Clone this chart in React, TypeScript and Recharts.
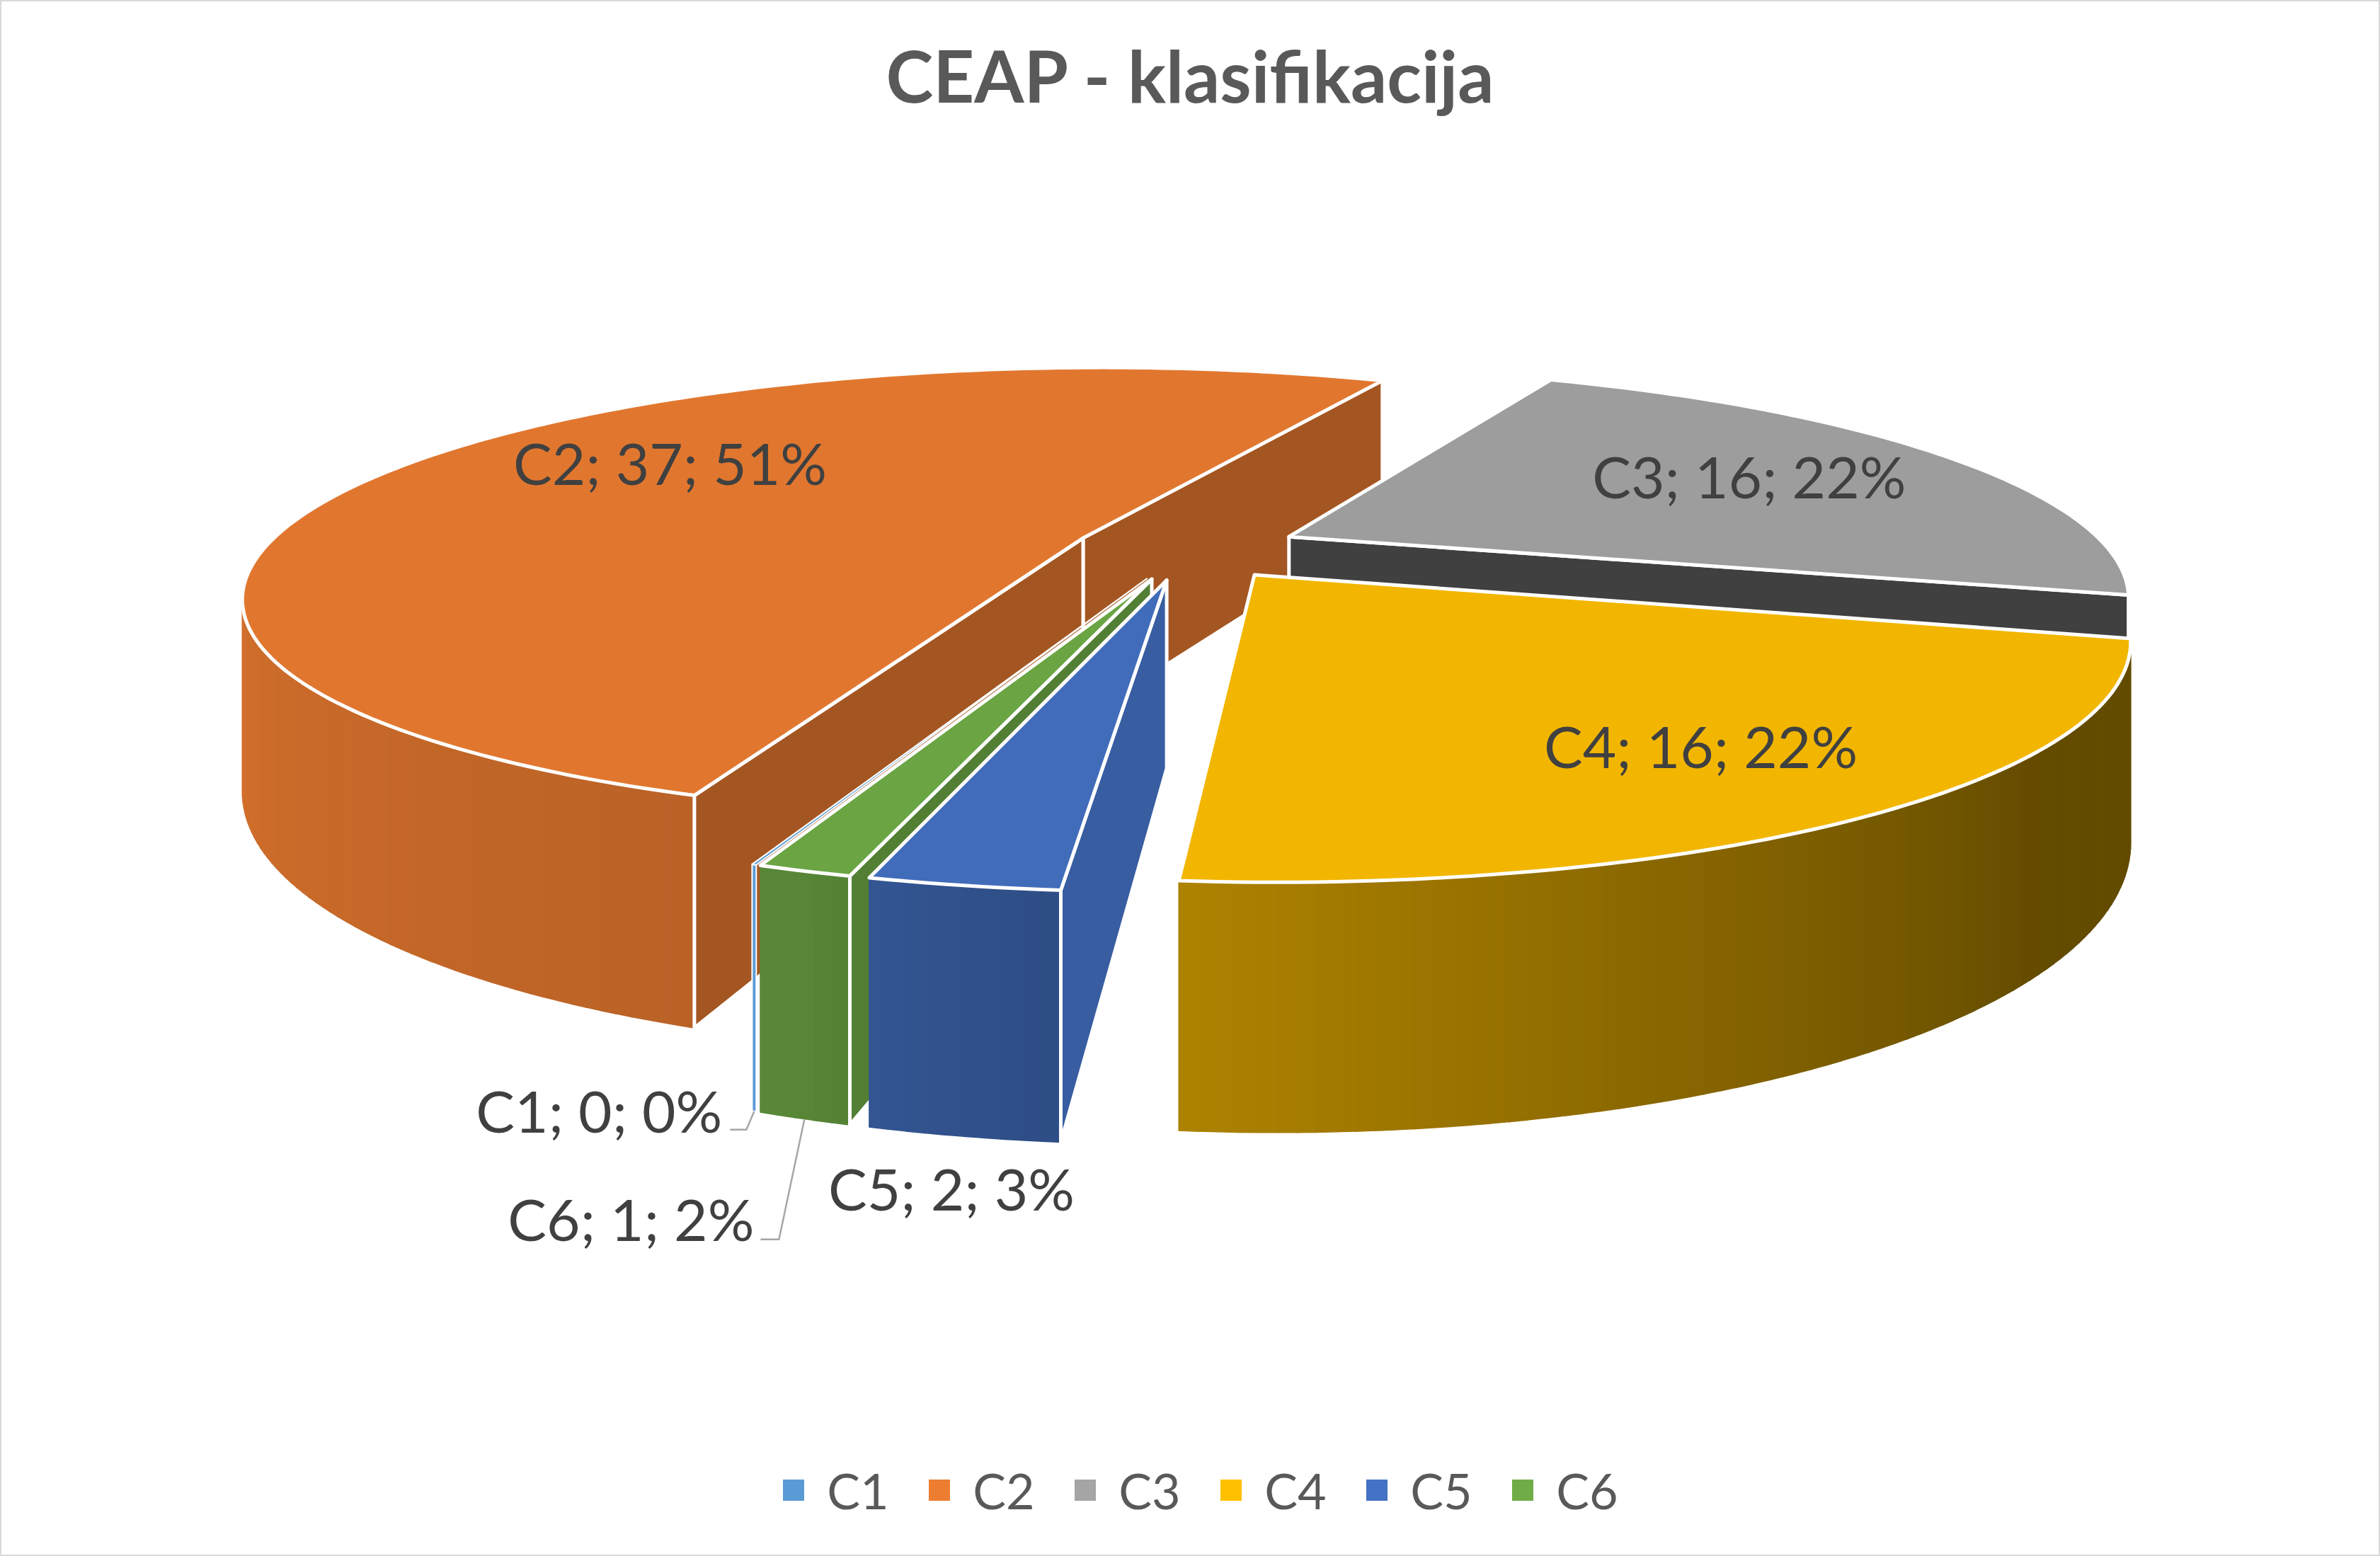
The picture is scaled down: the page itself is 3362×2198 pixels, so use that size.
import React from "react";
import { PieChart, Pie, Cell, Legend } from "recharts";

const categories = ["C1", "C2", "C3", "C4", "C5", "C6"];
const counts = [0, 37, 16, 16, 2, 1];
const percentLabels = [0, 51, 22, 22, 3, 2];
const colors = ["#5B9BD5", "#ED7D31", "#A5A5A5", "#FFC000", "#4472C4", "#70AD47"];

const data = categories.map((name, i) => ({ name, value: counts[i], pct: percentLabels[i] }));

const W = 3362;
const H = 2198;
const FONT = "Lato, 'Open Sans', sans-serif";

// first slice starts at 200deg clockwise from 12 o'clock
const START_CLOCK = 200;

// fake 3D: squash + simple perspective + thickness + explode
const TILT = 0.265;
const CAMERA = 4723;
const DEPTH = 257;
const EXPLODE = 161;

// brightness by direction of the face normal (degrees clockwise from 12 o'clock)
const wallLight = [[90, 0.39], [130, 0.39], [160, 0.54], [185, 0.68], [192, 0.72], [198, 0.78], [255, 0.89], [300, 0.9]];
const sideLight = [[85, 0.84], [95, 0.82], [110, 0.69], [115, 0.69], [195, 0.39]];

// label tweaks (px)
const insideNudge: Record<string, [number, number]> = { C2: [120, -26], C3: [-34, 2], C4: [36, 19] };
const outsideLayout: Record<string, { dx: number; dy: number; anchor: "end" | "middle"; lead?: number[] }> = {
  C1: { dx: -45, dy: 30, anchor: "end", lead: [-11, 26, -34] },
  C6: { dx: -71, dy: 172, anchor: "end", lead: [-36, 170, -62] },
  C5: { dx: -17, dy: 105, anchor: "middle" },
};

const RAD = Math.PI / 180;

// painter's order: slices further back are drawn first (a slice wider than 180deg holds the middle, so it goes first)
const depthRank = (() => {
  const total = counts.reduce((a, b) => a + b, 0);
  let acc = 0;
  const depth = counts.map((c) => {
    const m = START_CLOCK + ((acc + c / 2) / total) * 360;
    acc += c;
    return (c / total) * 360 > 180 ? -Infinity : -Math.cos(m * RAD);
  });
  const order = depth.map((_, i) => i).sort((a, b) => depth[a] - depth[b]);
  return categories.map((_, i) => order.indexOf(i));
})();

function lerp(table: number[][], x: number) {
  if (x <= table[0][0]) return table[0][1];
  for (let i = 1; i < table.length; i++) {
    if (x <= table[i][0]) {
      const [x0, y0] = table[i - 1];
      const [x1, y1] = table[i];
      return y0 + ((y1 - y0) * (x - x0)) / (x1 - x0);
    }
  }
  return table[table.length - 1][1];
}

function shade(hex: string, f: number) {
  const n = parseInt(hex.slice(1), 16);
  const r = Math.round(((n >> 16) & 255) * f);
  const g = Math.round(((n >> 8) & 255) * f);
  const b = Math.round((n & 255) * f);
  return `rgb(${r},${g},${b})`;
}

const clock = (a: number) => (((90 - a) % 360) + 360) % 360;

function projector(cx: number, cy: number, mid: number) {
  const ou = EXPLODE * Math.cos(mid * RAD);
  const ov = -EXPLODE * Math.sin(mid * RAD);
  return (ang: number, r: number, low: boolean): number[] => {
    const u = ou + r * Math.cos(ang * RAD);
    const v = ov - r * Math.sin(ang * RAD);
    const s = CAMERA / (CAMERA - v);
    return [cx + u * s, cy + (v * TILT + (low ? DEPTH : 0)) * s];
  };
}

function area(p: number[][]) {
  let s = 0;
  for (let i = 0; i < p.length; i++) {
    const [x1, y1] = p[i];
    const [x2, y2] = p[(i + 1) % p.length];
    s += x1 * y2 - x2 * y1;
  }
  return s;
}

const pts = (p: number[][]) => p.map((q) => q[0].toFixed(1) + "," + q[1].toFixed(1)).join(" ");

function Slice3D(props: any) {
  const { cx, cy, outerRadius: R, startAngle, endAngle, fill, value } = props;
  const mid = (startAngle + endAngle) / 2;
  const pt = projector(cx, cy, mid);
  const empty = !value;
  const a0 = empty ? startAngle + 0.12 : startAngle;
  const a1 = empty ? startAngle - 0.12 : endAngle;
  const dir = a1 < a0 ? 1 : -1;
  const n = Math.max(1, Math.ceil(Math.abs(a1 - a0)));
  const angs = Array.from({ length: n + 1 }, (_, i) => a0 + ((a1 - a0) * i) / n);
  const apexT = pt(0, 0, false);
  const apexB = pt(0, 0, true);
  const parts: React.ReactNode[] = [];

  // outer wall, only the segments facing us
  for (let i = 0; i < n; i++) {
    const q = [pt(angs[i], R, false), pt(angs[i + 1], R, false), pt(angs[i + 1], R, true), pt(angs[i], R, true)];
    if (area(q) * dir >= 0) continue;
    const c = empty ? fill : shade(fill, lerp(wallLight, clock((angs[i] + angs[i + 1]) / 2)));
    parts.push(
      <polygon key={"w" + i} points={pts(q)} fill={c} stroke={empty ? "#fff" : c} strokeWidth={empty ? 2 : 1.5} />
    );
  }

  // cut faces
  if (!empty) {
    const f0 = [apexT, pt(a0, R, false), pt(a0, R, true), apexB];
    if (area(f0) * dir < 0) {
      const b = lerp(sideLight, (clock(a0) - 90 + 360) % 360);
      parts.push(<polygon key="f0" points={pts(f0)} fill={shade(fill, b)} stroke="#fff" strokeWidth={5} strokeLinejoin="round" />);
    }
    const f1 = [pt(a1, R, false), apexT, apexB, pt(a1, R, true)];
    if (area(f1) * dir < 0) {
      const b = lerp(sideLight, (clock(a1) + 90) % 360);
      parts.push(<polygon key="f1" points={pts(f1)} fill={shade(fill, b)} stroke="#fff" strokeWidth={5} strokeLinejoin="round" />);
    }
  }

  const top = [apexT, ...angs.map((a) => pt(a, R, false))];
  parts.push(
    <polygon
      key="top"
      points={pts(top)}
      fill={empty ? fill : shade(fill, 0.95)}
      stroke="#fff"
      strokeWidth={empty ? 2 : 5}
      strokeLinejoin="round"
    />
  );
  return <g>{parts}</g>;
}

function renderLabel(props: any) {
  const { cx, cy, outerRadius: R, startAngle, endAngle, percent, payload } = props;
  const mid = (startAngle + endAngle) / 2;
  const pt = projector(cx, cy, mid);
  const name = payload?.name ?? props.name;
  const text = `${name}; ${payload.value}; ${payload.pct}%`;
  const style = { fontFamily: FONT, fontSize: 82, fill: "#404040" };
  if (percent >= 0.05) {
    const [x, y] = pt(mid, R * 0.72, false);
    const [nx, ny] = insideNudge[name] ?? [0, 0];
    return (
      <text x={x + nx} y={y + ny} dy="0.35em" textAnchor="middle" {...style}>
        {text}
      </text>
    );
  }
  const [ax, ay] = pt(mid, R, true);
  const lay = outsideLayout[name] ?? { dx: 0, dy: 100, anchor: "middle" as const };
  return (
    <g>
      {lay.lead && (
        <polyline
          points={pts([[ax, ay], [ax + lay.lead[0], ay + lay.lead[1]], [ax + lay.lead[2], ay + lay.lead[1]]])}
          fill="none"
          stroke="#A6A6A6"
          strokeWidth={2.5}
        />
      )}
      <text x={ax + lay.dx} y={ay + lay.dy} textAnchor={lay.anchor} {...style}>
        {text}
      </text>
    </g>
  );
}

function LegendRow() {
  return (
    <div
      style={{
        display: "flex",
        justifyContent: "center",
        alignItems: "center",
        height: 70,
        paddingLeft: 30,
        fontFamily: FONT,
        fontSize: 70,
        color: "#595959",
      }}
    >
      {categories.map((c, i) => (
        <div key={c} style={{ display: "flex", alignItems: "center", width: i < categories.length - 1 ? 206 : "auto" }}>
          <span style={{ display: "inline-block", width: 30, height: 30, background: colors[i], marginRight: 32 }} />
          <span>{c}</span>
        </div>
      ))}
    </div>
  );
}

export default function App() {
  const layers = categories.map((_, layer) => layer);
  return (
    <div
      style={{
        position: "relative",
        width: W,
        height: H,
        background: "#fff",
        border: "2px solid #D9D9D9",
        boxSizing: "border-box",
      }}
    >
      <style>{`body{margin:0}`}</style>
      <div
        style={{
          position: "absolute",
          top: 54,
          left: 0,
          width: "100%",
          textAlign: "center",
          fontFamily: FONT,
          fontWeight: 700,
          fontSize: 101,
          lineHeight: 1,
          color: "#595959",
          zIndex: 2,
        }}
      >
        CEAP - klasifikacija
      </div>
      <div style={{ position: "absolute", top: -2, left: -2 }}>
        <PieChart width={W} height={H} margin={{ top: 0, right: 0, bottom: 0, left: 0 }}>
          {layers.map((layer) => (
            <Pie
              key={layer}
              data={data}
              dataKey="value"
              nameKey="name"
              cx={1677}
              cy={776}
              outerRadius={1158}
              startAngle={90 - START_CLOCK}
              endAngle={90 - START_CLOCK - 360}
              isAnimationActive={false}
              shape={(p: any) =>
                depthRank[categories.indexOf(p.payload?.name ?? p.name)] === layer ? <Slice3D {...p} /> : <g />
              }
              label={layer === layers.length - 1 ? renderLabel : false}
              labelLine={false}
              legendType="rect"
            >
              {data.map((d, i) => (
                <Cell key={d.name} fill={colors[i]} />
              ))}
            </Pie>
          ))}
          <Legend content={() => <LegendRow />} wrapperStyle={{ top: 2070, left: 0, width: W, margin: 0 }} />
        </PieChart>
      </div>
    </div>
  );
}
